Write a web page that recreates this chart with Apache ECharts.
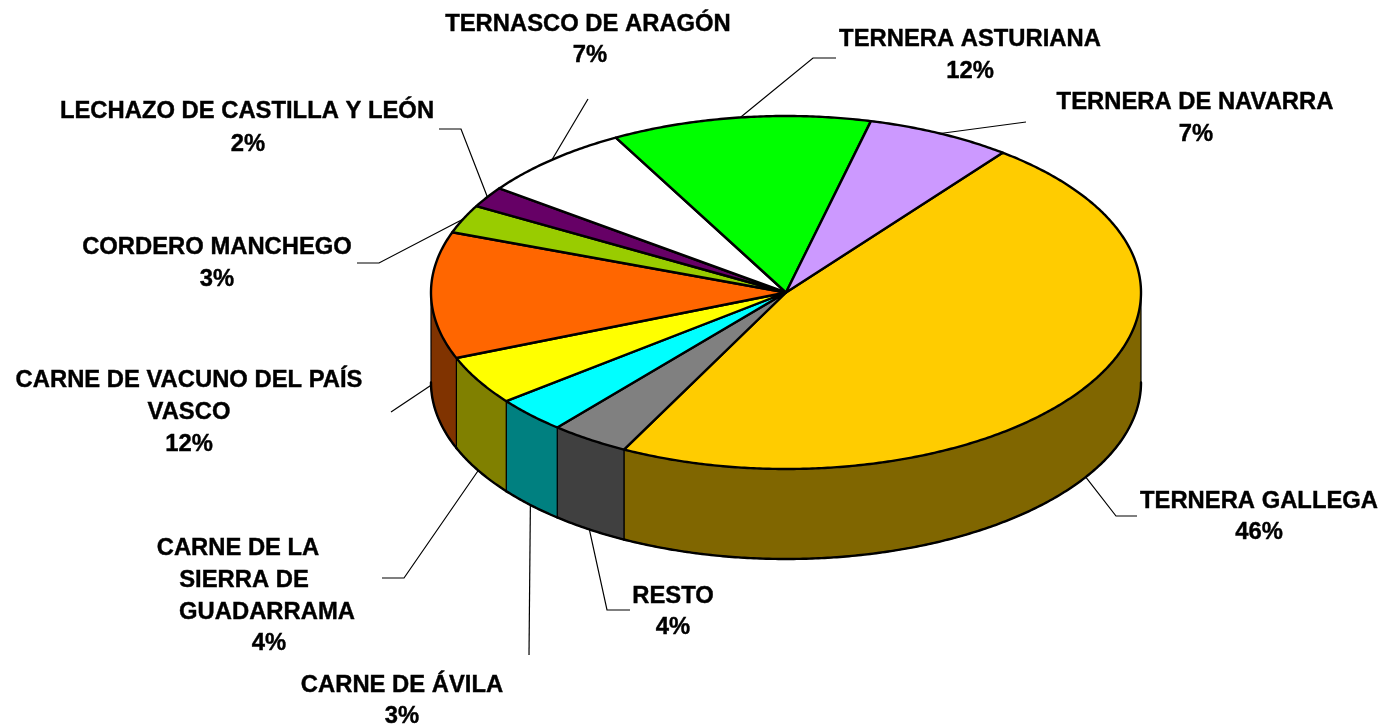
<!DOCTYPE html>
<html>
	<head>
		<meta charset="utf-8">
		<script type="text/javascript" src="https://cdn.jsdelivr.net/npm/echarts@6/dist/echarts.min.js"></script>
		<style>
			html, body { margin: 0; padding: 0; background: #fff; }
		</style>
	</head>
	<body>
		<div id="main" style="width:1383px;height:727px"></div>

		<script type="text/javascript">
			// clockwise from the Gallega slice
			var sliceNames = [
				['TERNERA GALLEGA'],
				['RESTO'],
				['CARNE DE ÁVILA'],
				['CARNE DE LA', 'SIERRA DE', 'GUADARRAMA'],
				['CARNE DE VACUNO DEL PAÍS', 'VASCO'],
				['CORDERO MANCHEGO'],
				['LECHAZO DE CASTILLA Y LEÓN'],
				['TERNASCO DE ARAGÓN'],
				['TERNERA ASTURIANA'],
				['TERNERA DE NAVARRA']
			];
			// printed percentages
			var percentLabels = ['46%', '4%', '3%', '4%', '12%', '3%', '2%', '7%', '12%', '7%'];
			// slice sizes as measured on the drawn pie (the 3d view stretches them a bit)
			var sliceValues = [47.1, 3.6, 3.3, 4.5, 11.6, 2.6, 1.9, 7.0, 11.8, 6.6];

			var topColors = ['#FFCC00', '#808080', '#00FFFF', '#FFFF00', '#FF6600', '#99CC00', '#660066', '#FFFFFF', '#00FF00', '#CC99FF'];
			var wallColors = ['#806600', '#404040', '#008080', '#808000', '#803300', '#4D6600', '#330033', '#808080', '#008000', '#664D80'];

			// centre x, y of every text line, percent line last
			var labelPlaces = [
				[[1259, 501], [1259, 532]],
				[[673, 596], [673, 627]],
				[[402, 685], [402, 716]],
				[[238, 548], [244, 580], [267, 612], [269, 643]],
				[[189, 380], [189, 412], [189, 444]],
				[[217, 247], [217, 279]],
				[[247, 111], [248, 144]],
				[[588, 24], [590, 55]],
				[[970, 39], [970, 71]],
				[[1195, 102], [1196, 134]]
			];
			// leader line points after the one on the pie edge
			var leaderEnds = [
				[[1116, 516], [1137, 516]],
				[[607, 610], [630, 610]],
				[[529, 655]],
				[[404, 578], [382, 578]],
				[[391, 412]],
				[[379, 263], [357, 263]],
				[[461, 129], [439, 129]],
				[[588, 99]],
				[[813, 58], [836, 58]],
				[[1026, 122]]
			];

			var pieCx = 786, pieCy = 292.5, pieRx = 355, pieRy = 176.5, pieDepth = 90;
			var startAngle = 37.6;
			var total = sliceValues.reduce(function(a, b) { return a + b; }, 0);

			// degrees clockwise from north -> point on the top ellipse
			function rim(deg, drop) {
				var r = deg * Math.PI / 180;
				return [pieCx + pieRx * Math.sin(r), pieCy - pieRy * Math.cos(r) + (drop || 0)];
			}

			function arcPoints(from, to, drop) {
				var pts = [];
				var steps = Math.max(2, Math.ceil(Math.abs(to - from) * 2));
				for(var i = 0; i <= steps; i++) {
					pts.push(rim(from + (to - from) * i / steps, drop));
				}
				return pts;
			}

			var myChart = echarts.init(document.getElementById('main'));

			function renderSlice(params, api) {
				var i = params.dataIndex;
				var before = 0;
				for(var k = 0; k < i; k++) {
					before += sliceValues[k];
				}
				var a0 = startAngle + before / total * 360;
				var a1 = a0 + api.value(0) / total * 360;
				var mid = (a0 + a1) / 2;
				var children = [];

				// side wall only where the rim faces the viewer
				var w0 = Math.max(a0, 90), w1 = Math.min(a1, 270);
				if(w1 > w0) {
					children.push({
						type: 'polygon',
						shape: { points: arcPoints(w0, w1, 0).concat(arcPoints(w1, w0, pieDepth)) },
						style: { fill: wallColors[i], stroke: '#000', lineWidth: 1.2, lineJoin: 'round' }
					});
					children.push({
						type: 'polyline',
						shape: { points: arcPoints(w0, w1, pieDepth) },
						style: { fill: null, stroke: '#000', lineWidth: 2.4, lineCap: 'round' }
					});
				}

				children.push({
					type: 'polygon',
					shape: { points: [[pieCx, pieCy]].concat(arcPoints(a0, a1, 0)) },
					style: { fill: topColors[i], stroke: '#000', lineWidth: 2.4, lineJoin: 'round' }
				});

				// leader line
				var front = mid > 90 && mid < 270;
				children.push({
					type: 'polyline',
					shape: { points: [rim(mid, front ? pieDepth : 0)].concat(leaderEnds[i]) },
					style: { fill: null, stroke: '#000', lineWidth: 1.2 }
				});

				sliceNames[i].concat(percentLabels[i]).forEach(function(line, n) {
					children.push({
						type: 'text',
						style: {
							text: line,
							x: labelPlaces[i][n][0],
							y: labelPlaces[i][n][1],
							fill: '#000',
							stroke: '#000',
							lineWidth: 0.4,
							font: 'bold 23.8px "Liberation Sans", Arial, sans-serif',
							textAlign: 'center',
							textVerticalAlign: 'middle'
						}
					});
				});

				return { type: 'group', children: children };
			}

			var option = {
				backgroundColor: '#fff',
				animation: false,
				series: [{
					type: 'custom',
					coordinateSystem: 'none',
					renderItem: renderSlice,
					data: sliceValues.map(function(v, i) {
						return { name: sliceNames[i].join(' '), value: [v] };
					})
				}]
			};
			myChart.setOption(option);
		</script>
	</body>
</html>
